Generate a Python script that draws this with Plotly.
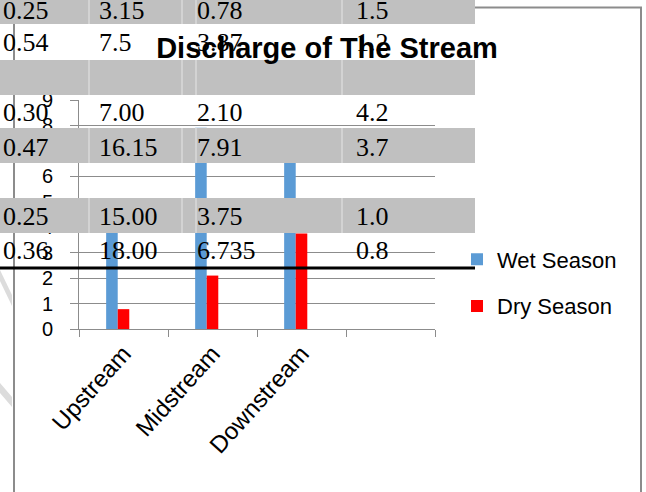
import plotly.graph_objects as go

# ---------------- data ----------------
categories = ["Upstream", "Midstream", "Downstream"]
empty_slot = [" "]
wet_season = [4.5, 7.91, 7.0]
dry_season = [0.78, 2.10, 3.75]
y_ticks = [0, 1, 2, 3, 4, 5, 6, 7, 8, 9]

# overlaid table fragments (text rows)
table_rows = [
    ["0.25", "3.15", "0.78", "1.5"],
    ["0.54", "7.5", "3.87", "1.2"],
    ["0.30", "7.00", "2.10", "4.2"],
    ["0.47", "16.15", "7.91", "3.7"],
    ["0.25", "15.00", "3.75", "1.0"],
    ["0.36", "18.00", "6.735", "0.8"],
]

# ---------------- layout helpers (pixel -> paper) ----------------
W, H = 646, 492
L, R, T, B = 79, 435, 100, 329


def px(x):
    return (x - L) / (R - L)


def py(y):
    return (B - y) / (B - T)


def path(points):
    return "M" + " L".join(f"{px(a):.5f},{py(b):.5f}" for a, b in points) + " Z"


fig = go.Figure()
fig.add_trace(go.Bar(name="Wet Season", x=categories, y=wet_season,
                     marker=dict(color="#5B9BD5", line=dict(width=0)),
                     width=0.13, offset=-0.195, legendgroup="w"))
fig.add_trace(go.Bar(name="Dry Season", x=categories, y=dry_season,
                     marker=dict(color="#FF0000", line=dict(width=0)),
                     width=0.13, offset=-0.065, legendgroup="d"))
# registers the empty fourth category slot
fig.add_trace(go.Bar(x=empty_slot, y=[0], showlegend=False, hoverinfo="skip",
                     marker=dict(color="rgba(0,0,0,0)", line=dict(width=0))))

shapes = []
# outer chart border
shapes.append(dict(type="rect", xref="paper", yref="paper", layer="below",
                   x0=px(14), x1=px(641), y0=py(7.5), y1=py(520),
                   line=dict(color="#8c8c8c", width=2), fillcolor="rgba(0,0,0,0)"))
# faint watermark bands on the left
for pts in ([(0, 270), (12, 295), (12, 306), (0, 281)],
            [(0, 383), (12, 397), (12, 407), (0, 393)]):
    shapes.append(dict(type="path", xref="paper", yref="paper", layer="above",
                       path=path(pts), fillcolor="#dcdcdc", line=dict(width=0)))
# gray table rows
gray_rows = [(-6, 24), (60, 95), (128, 163), (198, 233)]
for y0, y1 in gray_rows:
    shapes.append(dict(type="rect", xref="paper", yref="paper", layer="above",
                       x0=px(-6), x1=px(475), y0=py(y1), y1=py(y0),
                       fillcolor="#c0c0c0", line=dict(width=0)))
    for sx in (89, 182, 196, 342):
        shapes.append(dict(type="line", xref="paper", yref="paper", layer="above",
                           x0=px(sx), x1=px(sx), y0=py(y1), y1=py(y0),
                           line=dict(color="#e6e6e6", width=1)))
# black rule
shapes.append(dict(type="line", xref="paper", yref="paper", layer="above",
                   x0=px(-6), x1=px(475), y0=py(268), y1=py(268),
                   line=dict(color="#000000", width=3)))

annotations = []
col_x = [1, 97, 195, 354]
row_y = [10, 43, 112, 147, 216, 250]
for row, ry in zip(table_rows, row_y):
    for txt, cx in zip(row, col_x):
        annotations.append(dict(text=txt, xref="paper", yref="paper",
                                x=px(cx), y=py(ry), xanchor="left", yanchor="middle",
                                showarrow=False,
                                font=dict(family="Liberation Serif", size=26, color="#000000")))

fig.update_layout(
    width=W, height=H,
    margin=dict(l=L, r=W - R, t=T, b=H - B, pad=0, autoexpand=False),
    paper_bgcolor="white", plot_bgcolor="white",
    barmode="overlay",
    title=dict(text="<b>Discharge of The Stream</b>", x=327 / W, xanchor="center",
               xref="container", y=1 - 47.5 / H, yanchor="middle",
               font=dict(family="Liberation Sans", size=29, color="#000000")),
    font=dict(family="Liberation Sans", color="#000000"),
    showlegend=True,
    legend=dict(x=px(457), xanchor="left", y=py(283), yanchor="middle",
                traceorder="grouped", tracegroupgap=15,
                font=dict(family="Liberation Sans", size=22, color="#000000"),
                bgcolor="rgba(0,0,0,0)"),
    shapes=shapes,
    annotations=annotations,
)
fig.update_xaxes(type="category", categoryorder="array",
                 categoryarray=categories + empty_slot, automargin=False,
                 tickson="boundaries", ticks="outside", ticklen=7, tickcolor="#8c8c8c",
                 showline=True, linecolor="#8c8c8c", linewidth=1, showgrid=False,
                 tickangle=-48, tickfont=dict(family="Liberation Sans", size=24, color="#000000"))
fig.update_yaxes(range=[0, 9], tickvals=y_ticks, ticks="outside", ticklen=8, automargin=False,
                 tickcolor="#8c8c8c", showline=True, linecolor="#8c8c8c", linewidth=1,
                 showgrid=True, gridcolor="#8c8c8c", gridwidth=1, zeroline=False,
                 ticklabelstandoff=13,
                 tickfont=dict(family="Liberation Sans", size=20, color="#000000"))

fig.write_html("out.html", config={"displayModeBar": False},
               post_script="document.body.style.margin='0';")
